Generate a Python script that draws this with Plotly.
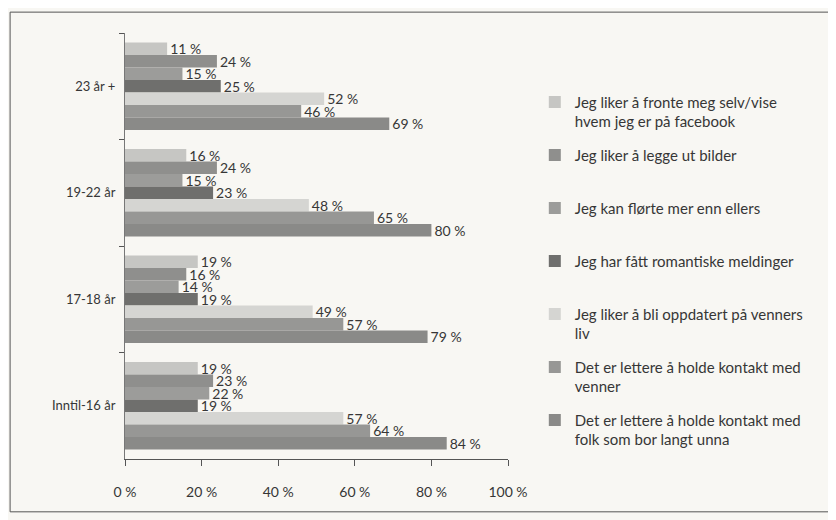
import plotly.graph_objects as go

categories = ["23 år +", "19-22 år", "17-18 år", "Inntil-16 år"]

series_names = [
    "Jeg liker å fronte meg selv/vise<br>hvem jeg er på facebook",
    "Jeg liker å legge ut bilder",
    "Jeg kan flørte mer enn ellers",
    "Jeg har fått romantiske meldinger",
    "Jeg liker å bli oppdatert på venners<br>liv",
    "Det er lettere å holde kontakt med<br>venner",
    "Det er lettere å holde kontakt med<br>folk som bor langt unna",
]

fronte = [11, 16, 19, 19]
bilder = [24, 24, 16, 23]
florte = [15, 15, 14, 22]
romantiske = [25, 23, 19, 19]
oppdatert = [52, 48, 49, 57]
kontakt_venner = [46, 65, 57, 64]
kontakt_langt = [69, 80, 79, 84]

series_values = [fronte, bilder, florte, romantiske, oppdatert, kontakt_venner, kontakt_langt]
series_colors = ["#c6c6c3", "#8f8f8d", "#9c9c9a", "#6f6f6d", "#d5d5d2", "#979795", "#8a8a88"]

tick_vals = [0, 20, 40, 60, 80, 100]
tick_text = ["0 %", "20 %", "40 %", "60 %", "80 %", "100 %"]

FONT = "Lato, 'Open Sans', sans-serif"
TEXT = "#363636"
BG = "#f8f7f3"

fig = go.Figure()
for i, (name, vals, col) in enumerate(zip(series_names, series_values, series_colors)):
    label = name if "<br>" in name else name + "<br> "
    fig.add_trace(go.Bar(
        y=categories, x=vals, orientation="h", name=label,
        marker=dict(color=col, line=dict(width=0)),
        text=[f"{v} %" for v in vals], textposition="outside",
        textfont=dict(family=FONT, size=14, color=TEXT),
        constraintext="none", cliponaxis=False,
        legendgroup=f"g{i}",
    ))

fig.update_layout(
    width=836, height=520,
    margin=dict(l=117, r=336, t=25, b=69, autoexpand=False),
    paper_bgcolor=BG, plot_bgcolor=BG,
    barmode="group", bargap=0.18, bargroupgap=0,
    font=dict(family=FONT, size=14, color=TEXT),
    showlegend=True,
    legend=dict(
        x=1.07, y=0.876, xanchor="left", yanchor="top",
        traceorder="grouped", tracegroupgap=11, valign="top",
        font=dict(family=FONT, size=15, color=TEXT),
        bgcolor="rgba(0,0,0,0)", itemclick=False,
    ),
    xaxis=dict(
        range=[0, 100], tickvals=tick_vals, ticktext=tick_text,
        showgrid=False, zeroline=False,
        showline=True, linecolor="#555555", linewidth=1,
        ticks="outside", ticklen=6, tickcolor="#555555",
        ticklabelstandoff=14,
        tickfont=dict(family=FONT, size=14, color=TEXT),
    ),
    yaxis=dict(
        categoryorder="array", categoryarray=categories, autorange="reversed",
        showgrid=False, zeroline=False,
        showline=True, linecolor="#777777", linewidth=1,
        ticks="outside", ticklen=5, tickcolor="#555555", tickson="boundaries",
        ticklabelstandoff=6,
        tickfont=dict(family=FONT, size=13, color=TEXT),
    ),
    shapes=[dict(
        type="rect", xref="paper", yref="paper",
        x0=-0.300, x1=1.914, y0=-0.124, y1=1.049,
        line=dict(color="#555555", width=1), fillcolor="rgba(0,0,0,0)", layer="below",
    )],
)

fig.write_html("out.html")
